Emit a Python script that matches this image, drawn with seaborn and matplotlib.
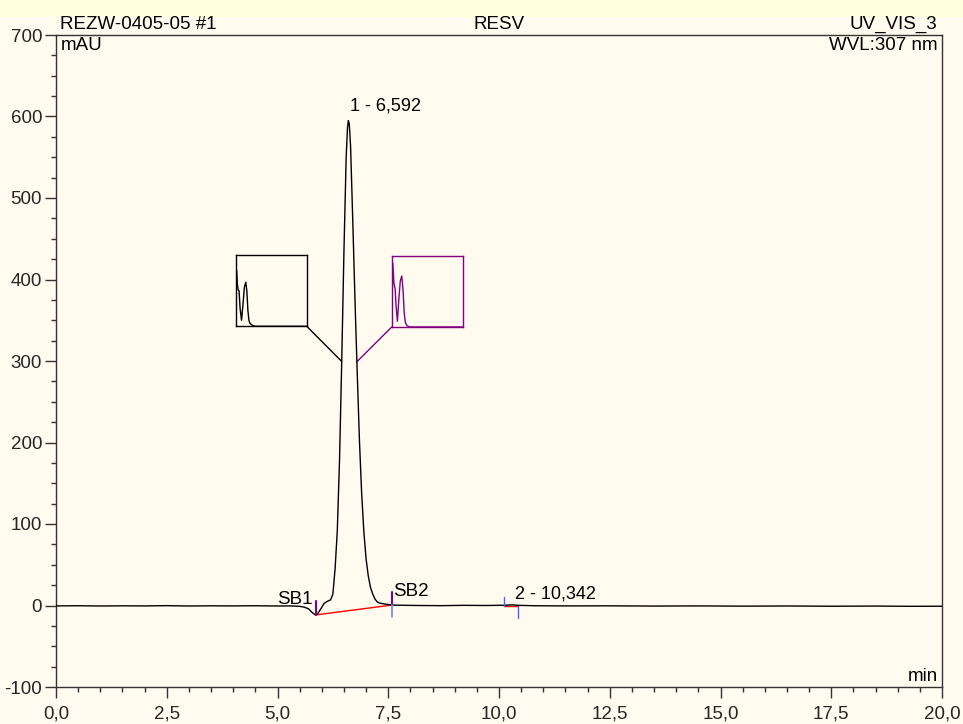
import numpy as np
import pandas as pd
import matplotlib
matplotlib.use("Agg")
import matplotlib.pyplot as plt
from matplotlib.patches import Rectangle
from matplotlib.ticker import MultipleLocator, FuncFormatter
import seaborn as sns

# Chromatogram trace (retention time in min, signal in mAU)
time_min = [0.0, 0.5, 1.0, 1.5, 2.0, 2.5, 3.0, 3.5, 4.0, 4.5, 5.0, 5.3, 5.5, 5.6,
            5.7, 5.78, 5.85, 5.9, 5.98, 6.05, 6.12, 6.2, 6.25, 6.3, 6.35, 6.4,
            6.45, 6.5, 6.55, 6.58, 6.6, 6.62, 6.65, 6.7, 6.75, 6.8, 6.85, 6.9,
            6.95, 7.0, 7.05, 7.1, 7.15, 7.2, 7.25, 7.3, 7.4, 7.5, 7.58, 7.8,
            8.2, 8.7, 9.2, 9.7, 10.1, 10.3, 10.45, 10.8, 11.5, 12.5, 13.5, 14.5,
            15.5, 16.5, 17.5, 18.5, 19.3, 20.0]
signal_mau = [-0.5, -0.3, -0.6, -0.4, -0.5, -0.2, -0.6, -0.4, -0.5, -0.3, -0.6, -0.5, -1.0, -2.0,
              -4.0, -8.5, -11.5, -10.5, -4.0, 2.5, 5.0, 7.0, 14.0, 45.0, 92.0, 178.0,
              300.0, 435.0, 550.0, 586.0, 595.0, 591.0, 563.0, 470.0, 373.0, 285.0, 202.0, 137.0,
              90.0, 57.0, 36.0, 22.0, 14.0, 8.0, 4.5, 3.0, 2.0, 1.2, 0.5, 0.3,
              0.0, -0.2, 0.2, 0.0, 0.3, 0.8, 0.2, -0.3, -0.5, -0.4, -0.7, -0.5,
              -0.8, -0.6, -0.9, -0.7, -1.0, -0.9]

# Peak annotations
peak_labels = ["1 - 6,592", "2 - 10,342"]
peak_label_pos = [(6.64, 607), (10.36, 9)]

# Baseline segments drawn by the integrator (start/end time and level)
base1_t = [5.87, 7.58]
base1_v = [-11.5, 0.5]
base2_t = [10.12, 10.43]
base2_v = [-1.0, -1.0]

# UV spectra thumbnails (relative wavelength / relative absorbance)
spec_a_x = [0.0, 0.009, 0.02, 0.033, 0.045, 0.06, 0.08, 0.1, 0.12, 0.14, 0.155, 0.17, 0.185, 0.2, 0.23, 0.27, 1.0]
spec_a_y = [0.0, 0.79, 0.6, 0.51, 0.5, 0.25, 0.085, 0.3, 0.55, 0.62, 0.5, 0.22, 0.08, 0.04, 0.015, 0.0, 0.0]
spec_b_x = [0.0, 0.014, 0.03, 0.047, 0.06, 0.079, 0.1, 0.12, 0.141, 0.16, 0.175, 0.19, 0.211, 0.25, 1.0]
spec_b_y = [0.0, 0.9, 0.62, 0.54, 0.3, 0.08, 0.4, 0.65, 0.72, 0.5, 0.2, 0.07, 0.02, 0.0, 0.0]

sns.set_theme(style="ticks")
plt.rcParams["font.family"] = ["Liberation Sans", "DejaVu Sans"]

bg = "#fffbef"
fig = plt.figure(figsize=(9.63, 7.24), dpi=100, facecolor=bg)
fig.patches.append(Rectangle((0, 1 - 17 / 724), 1, 17 / 724, transform=fig.transFigure,
                             facecolor="#ffffdd", edgecolor="none", zorder=-1))
ax = fig.add_axes([56 / 963, 1 - 687 / 724, (942 - 56) / 963, (687 - 35) / 724])
ax.set_facecolor(bg)

df = pd.DataFrame({"time": time_min, "signal": signal_mau})
sns.lineplot(data=df, x="time", y="signal", ax=ax, color="black", linewidth=1.0,
             estimator=None, sort=False, zorder=3)

# integration baselines
ax.plot(base1_t, base1_v, color="#ff0000", linewidth=1.0, zorder=2)
ax.plot(base2_t, base2_v, color="#ff0000", linewidth=1.0, zorder=2)

# peak delimiters
purple = "#800080"
blue = "#5060ff"
ax.plot([5.87, 5.87], [-11.5, 6], color=purple, linewidth=1.5, zorder=4)
ax.plot([7.58, 7.58], [0.5, 16], color=purple, linewidth=1.5, zorder=4)
ax.plot([7.58, 7.58], [0.5, -14], color="#7080ff", linewidth=1.2, zorder=4)
ax.plot([10.12, 10.12], [-1, 11], color=blue, linewidth=1.0, zorder=4)
ax.plot([10.43, 10.43], [-1, -15], color=blue, linewidth=1.0, zorder=4)

ax.text(5.80, 2, "SB1", ha="right", va="baseline", fontsize=13.5, color="black")
ax.text(7.60, 12, "SB2", ha="left", va="baseline", fontsize=13.5, color="black")
for lbl, (tx, ty) in zip(peak_labels, peak_label_pos):
    ax.text(tx, ty, lbl, ha="left", va="baseline", fontsize=13, color="black")

# spectra thumbnails and their leader lines
boxes = [((4.06, 342.6), 1.60, 87.2, spec_a_x, spec_a_y, "black", (5.66, 342.6), (6.44, 300)),
         ((7.58, 341.8), 1.60, 86.8, spec_b_x, spec_b_y, purple, (7.58, 341.8), (6.79, 299))]
for (x0, y0), w, h, sx, sy, col, corner, target in boxes:
    ax.plot([corner[0], target[0]], [corner[1], target[1]], color=col, linewidth=1.0, zorder=2)
    ins = ax.inset_axes([x0, y0, w, h], transform=ax.transData)
    ins.set_facecolor(bg)
    ins.plot(sx, sy, color=col, linewidth=1.0)
    ins.set_xlim(0, 1)
    ins.set_ylim(0, 1)
    ins.set_xticks([])
    ins.set_yticks([])
    for s in ins.spines.values():
        s.set_color(col)
        s.set_linewidth(1.0)

ax.set_xlim(0, 20)
ax.set_ylim(-100, 700)
ax.xaxis.set_major_locator(MultipleLocator(2.5))
ax.xaxis.set_minor_locator(MultipleLocator(0.5))
ax.yaxis.set_major_locator(MultipleLocator(100))
ax.yaxis.set_minor_locator(MultipleLocator(25))
ax.xaxis.set_major_formatter(FuncFormatter(lambda v, p: f"{v:.1f}".replace(".", ",")))
ax.yaxis.set_major_formatter(FuncFormatter(lambda v, p: f"{v:.0f}"))
ax.tick_params(which="major", direction="out", length=8, width=1, labelsize=13.5, pad=2,
               color="#333333", top=False, right=False)
ax.tick_params(axis="x", which="major", pad=5)
ax.tick_params(which="minor", direction="out", length=3.5, width=1, color="#333333",
               top=False, right=False)
ax.set_xlabel("")
ax.set_ylabel("")
for s in ax.spines.values():
    s.set_visible(True)
    s.set_color("#333333")
    s.set_linewidth(1.0)

# header and axis unit texts
hdr = dict(transform=ax.transAxes, fontsize=13.5, color="black")
ax.text(0.005, 1.003, "REZW-0405-05 #1", ha="left", va="bottom", **hdr)
ax.text(0.5, 1.003, "RESV", ha="center", va="bottom", **hdr)
ax.text(0.995, 1.003, "UV_VIS_3", ha="right", va="bottom", **hdr)
ax.text(0.005, 0.997, "mAU", ha="left", va="top", **hdr)
ax.text(0.995, 0.997, "WVL:307 nm", ha="right", va="top", **hdr)
ax.text(0.995, 0.003, "min", ha="right", va="bottom", **hdr)

fig.savefig("out.png", dpi=100, facecolor=bg)
